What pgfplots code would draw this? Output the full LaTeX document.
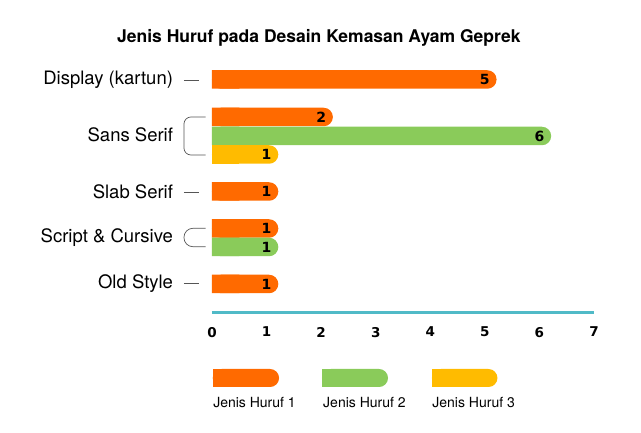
\documentclass[border=0pt]{standalone}
\usepackage{fontspec}
\setmainfont{TeX Gyre Heros}
\newfontfamily\numfont{DejaVu Sans}
\usepackage{pgfplots}
\pgfplotsset{compat=1.18}
\definecolor{c1}{RGB}{255,106,0}
\definecolor{c2}{RGB}{138,203,90}
\definecolor{c3}{RGB}{255,187,0}
\definecolor{axc}{RGB}{80,186,199}
\definecolor{brk}{RGB}{85,85,85}
\begin{document}
\begin{tikzpicture}
\begin{axis}[
  at={(212pt,119.5pt)}, anchor=south west,
  scale only axis, width=382pt, height=252.5pt,
  xmin=0, xmax=7, ymin=-312.5, ymax=-60,
  clip=false,
  /pgf/number format/assume math mode=true,
  axis x line*=bottom, axis y line*=left,
  x axis line style={axc, line width=3pt},
  y axis line style={draw=none},
  major tick length=0pt,
  xtick={0,1,2,3,4,5,6,7},
  xticklabel style={font=\numfont\bfseries\fontsize{13.5}{13.5}\selectfont, text=black, yshift=-11pt},
  ytick={-283.5,-237.5,-191.5,-135,-79.5},
  yticklabels={Old Style, Script \& Cursive, Slab Serif, Sans Serif, Display (kartun)},
  yticklabel style={font=\fontsize{18.5}{18.5}\selectfont, text=black, xshift=-35.5pt},
]
% rounded bars (cap extends beyond the value)
\addplot[xbar, bar width=18.5pt, bar shift=0pt, fill=c1, draw=none, rounded corners=9.2pt, x filter/.expression={x+0.215}]
  coordinates {(5,-79.5) (2,-117) (1,-191.5) (1,-228.5) (1,-284)};
\addplot[xbar, bar width=18.5pt, bar shift=0pt, fill=c2, draw=none, rounded corners=9.2pt, x filter/.expression={x+0.215}]
  coordinates {(6,-136) (1,-247)};
\addplot[xbar, bar width=18.5pt, bar shift=0pt, fill=c3, draw=none, rounded corners=9.2pt, x filter/.expression={x+0.215}]
  coordinates {(1,-154.5)};
% square left ends
\addplot[xbar, bar width=18.5pt, bar shift=0pt, fill=c1, draw=none]
  coordinates {(0.5,-79.5) (0.5,-117) (0.5,-191.5) (0.5,-228.5) (0.5,-284)};
\addplot[xbar, bar width=18.5pt, bar shift=0pt, fill=c2, draw=none]
  coordinates {(0.5,-136) (0.5,-247)};
\addplot[xbar, bar width=18.5pt, bar shift=0pt, fill=c3, draw=none]
  coordinates {(0.5,-154.5)};
% value labels
\addplot[draw=none, nodes near coords, point meta=x,
  every node near coord/.style={anchor=center, text=black, font=\numfont\bfseries\fontsize{14}{14}\selectfont}]
  coordinates {(5,-79.5) (2,-117) (6,-136) (1,-154.5) (1,-191.5) (1,-228.5) (1,-247) (1,-284)};
% dashes and brackets
\addplot[brk, line width=0.7pt] coordinates {(-0.514,-80) (-0.24,-80)};
\addplot[brk, line width=0.7pt] coordinates {(-0.514,-192) (-0.24,-192)};
\addplot[brk, line width=0.7pt] coordinates {(-0.514,-283.5) (-0.24,-283.5)};
\addplot[brk, line width=0.7pt, rounded corners=7pt] coordinates {(-0.116,-117) (-0.514,-117) (-0.514,-155) (-0.116,-155)};
\addplot[brk, line width=0.7pt, rounded corners=9pt] coordinates {(-0.116,-228.3) (-0.514,-228.3) (-0.514,-246.7) (-0.116,-246.7)};
% legend swatches
\addplot[fill=c1, draw=none, rounded corners=9pt] coordinates {(0.013,-369) (1.229,-369) (1.229,-387) (0.013,-387)} -- cycle;
\addplot[fill=c1, draw=none] coordinates {(0.013,-369) (0.5,-369) (0.5,-387) (0.013,-387)} -- cycle;
\addplot[fill=c2, draw=none, rounded corners=9pt] coordinates {(2.015,-369) (3.226,-369) (3.226,-387) (2.015,-387)} -- cycle;
\addplot[fill=c2, draw=none] coordinates {(2.015,-369) (2.5,-369) (2.5,-387) (2.015,-387)} -- cycle;
\addplot[fill=c3, draw=none, rounded corners=9pt] coordinates {(4.03,-369) (5.231,-369) (5.231,-387) (4.03,-387)} -- cycle;
\addplot[fill=c3, draw=none] coordinates {(4.03,-369) (4.5,-369) (4.5,-387) (4.03,-387)} -- cycle;
\node[anchor=west, inner sep=0pt, font=\fontsize{14}{14}\selectfont] at (axis cs:0.02,-403) {Jenis Huruf 1};
\node[anchor=west, inner sep=0pt, font=\fontsize{14}{14}\selectfont] at (axis cs:2.035,-403) {Jenis Huruf 2};
\node[anchor=west, inner sep=0pt, font=\fontsize{14}{14}\selectfont] at (axis cs:4.035,-403) {Jenis Huruf 3};
% title
\node[anchor=base, inner sep=0pt, font=\bfseries\fontsize{17.5}{17.5}\selectfont] at (axis cs:1.958,-42.6) {Jenis Huruf pada Desain Kemasan Ayam Geprek};
\end{axis}
\pgfresetboundingbox
\path[use as bounding box] (0,0) rectangle (641pt,432pt);
\end{tikzpicture}
\end{document}
